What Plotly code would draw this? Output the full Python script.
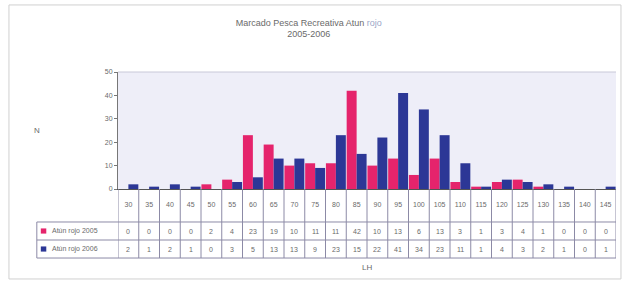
import plotly.graph_objects as go

categories = ["30", "35", "40", "45", "50", "55", "60", "65", "70", "75", "80", "85",
              "90", "95", "100", "105", "110", "115", "120", "125", "130", "135", "140", "145"]
series_names = ["Atún rojo 2005", "Atún rojo 2006"]
values_2005 = [0, 0, 0, 0, 2, 4, 23, 19, 10, 11, 11, 42, 10, 13, 6, 13, 3, 1, 3, 4, 1, 0, 0, 0]
values_2006 = [2, 1, 2, 1, 0, 3, 5, 13, 13, 9, 23, 15, 22, 41, 34, 23, 11, 1, 4, 3, 2, 1, 0, 1]
y_ticks = [0, 10, 20, 30, 40, 50]
title_text = "Marcado Pesca Recreativa Atun <span style='color:#9aa6c8'>rojo</span><br>2005-2006"

PINK = "#e5246c"
BLUE = "#2c3796"
LINE = "#8c8aa6"
TXT = "#6a6a6a"
FONT = "Liberation Sans, Arial, sans-serif"

fig = go.Figure()
fig.add_trace(go.Bar(x=categories, y=values_2005, name=series_names[0], marker_color=PINK,
                     marker_line_width=0))
fig.add_trace(go.Bar(x=categories, y=values_2006, name=series_names[1], marker_color=BLUE,
                     marker_line_width=0))

# geometry of data table (paper coords, relative to plot area)
y_top = 0.0
y_cat_bottom = -0.282
y_row1 = -0.359
y_sep = -0.436
y_row2 = -0.513
y_bottom = -0.59
x_left_box = -0.163

shapes = []
n = len(categories)
for i in range(n + 1):
    shapes.append(dict(type="line", xref="x", yref="paper", x0=i - 0.5, x1=i - 0.5,
                       y0=y_top, y1=y_bottom, line=dict(color=LINE, width=1)))
for yy in (y_cat_bottom, y_sep, y_bottom):
    shapes.append(dict(type="line", xref="paper", yref="paper", x0=x_left_box, x1=1,
                       y0=yy, y1=yy, line=dict(color=LINE, width=1)))
shapes.append(dict(type="line", xref="paper", yref="paper", x0=x_left_box, x1=x_left_box,
                   y0=y_cat_bottom, y1=y_bottom, line=dict(color=LINE, width=1)))
for yy, col in ((y_row1, PINK), (y_row2, BLUE)):
    shapes.append(dict(type="rect", xref="paper", yref="paper", x0=-0.155, x1=-0.144,
                       y0=yy - 0.022, y1=yy + 0.022, fillcolor=col, line=dict(width=0)))
shapes.append(dict(type="line", xref="paper", yref="paper", x0=0, x1=1, y0=1, y1=1,
                   line=dict(color="#c8c8d8", width=1)))
shapes.append(dict(type="rect", xref="paper", yref="paper", x0=-0.219, x1=1.01,
                   y0=-0.769, y1=1.573, line=dict(color="#d0d0d0", width=1),
                   fillcolor="rgba(0,0,0,0)"))

annotations = []
for i, c in enumerate(categories):
    annotations.append(dict(x=i, y=y_row1, xref="x", yref="paper", text=str(values_2005[i]),
                            showarrow=False, yanchor="middle", xanchor="center",
                            font=dict(size=7, color=TXT, family=FONT)))
    annotations.append(dict(x=i, y=y_row2, xref="x", yref="paper", text=str(values_2006[i]),
                            showarrow=False, yanchor="middle", xanchor="center",
                            font=dict(size=7, color=TXT, family=FONT)))
for yy, name in ((y_row1, series_names[0]), (y_row2, series_names[1])):
    annotations.append(dict(x=-0.136, y=yy, xref="paper", yref="paper", text=name,
                            xanchor="left", yanchor="middle", showarrow=False,
                            font=dict(size=7, color=TXT, family=FONT)))
annotations.append(dict(x=0.5, y=-0.675, xref="paper", yref="paper", text="LH",
                        showarrow=False, yanchor="middle",
                        font=dict(size=8, color=TXT, family=FONT)))
annotations.append(dict(x=-0.172, y=0.5, xref="paper", yref="paper", text="N",
                        showarrow=False, yanchor="middle",
                        font=dict(size=8, color=TXT, family=FONT)))

fig.update_layout(
    width=630, height=286,
    margin=dict(l=118, r=14, t=72, b=97),
    paper_bgcolor="white",
    plot_bgcolor="#eeeef8",
    barmode="group", bargap=0.04, bargroupgap=0,
    showlegend=False,
    title=dict(text=title_text, x=0.49, xanchor="center", y=0.91, yanchor="top",
               font=dict(size=9, color=TXT, family=FONT)),
    xaxis=dict(type="category", range=[-0.5, n - 0.5], showgrid=False,
               showline=True, linecolor="#555", linewidth=1, ticks="",
               tickfont=dict(size=7, color=TXT, family=FONT), ticklabelstandoff=9),
    yaxis=dict(range=[0, 50], tickvals=y_ticks, showgrid=False, zeroline=False,
               showline=True, linecolor="#777", linewidth=1, ticks="outside", ticklen=3,
               tickcolor="#777", tickfont=dict(size=7, color=TXT, family=FONT)),
    shapes=shapes, annotations=annotations,
)

fig.write_html("out.html", config={"displayModeBar": False},
               post_script="document.body.style.margin='0';")
